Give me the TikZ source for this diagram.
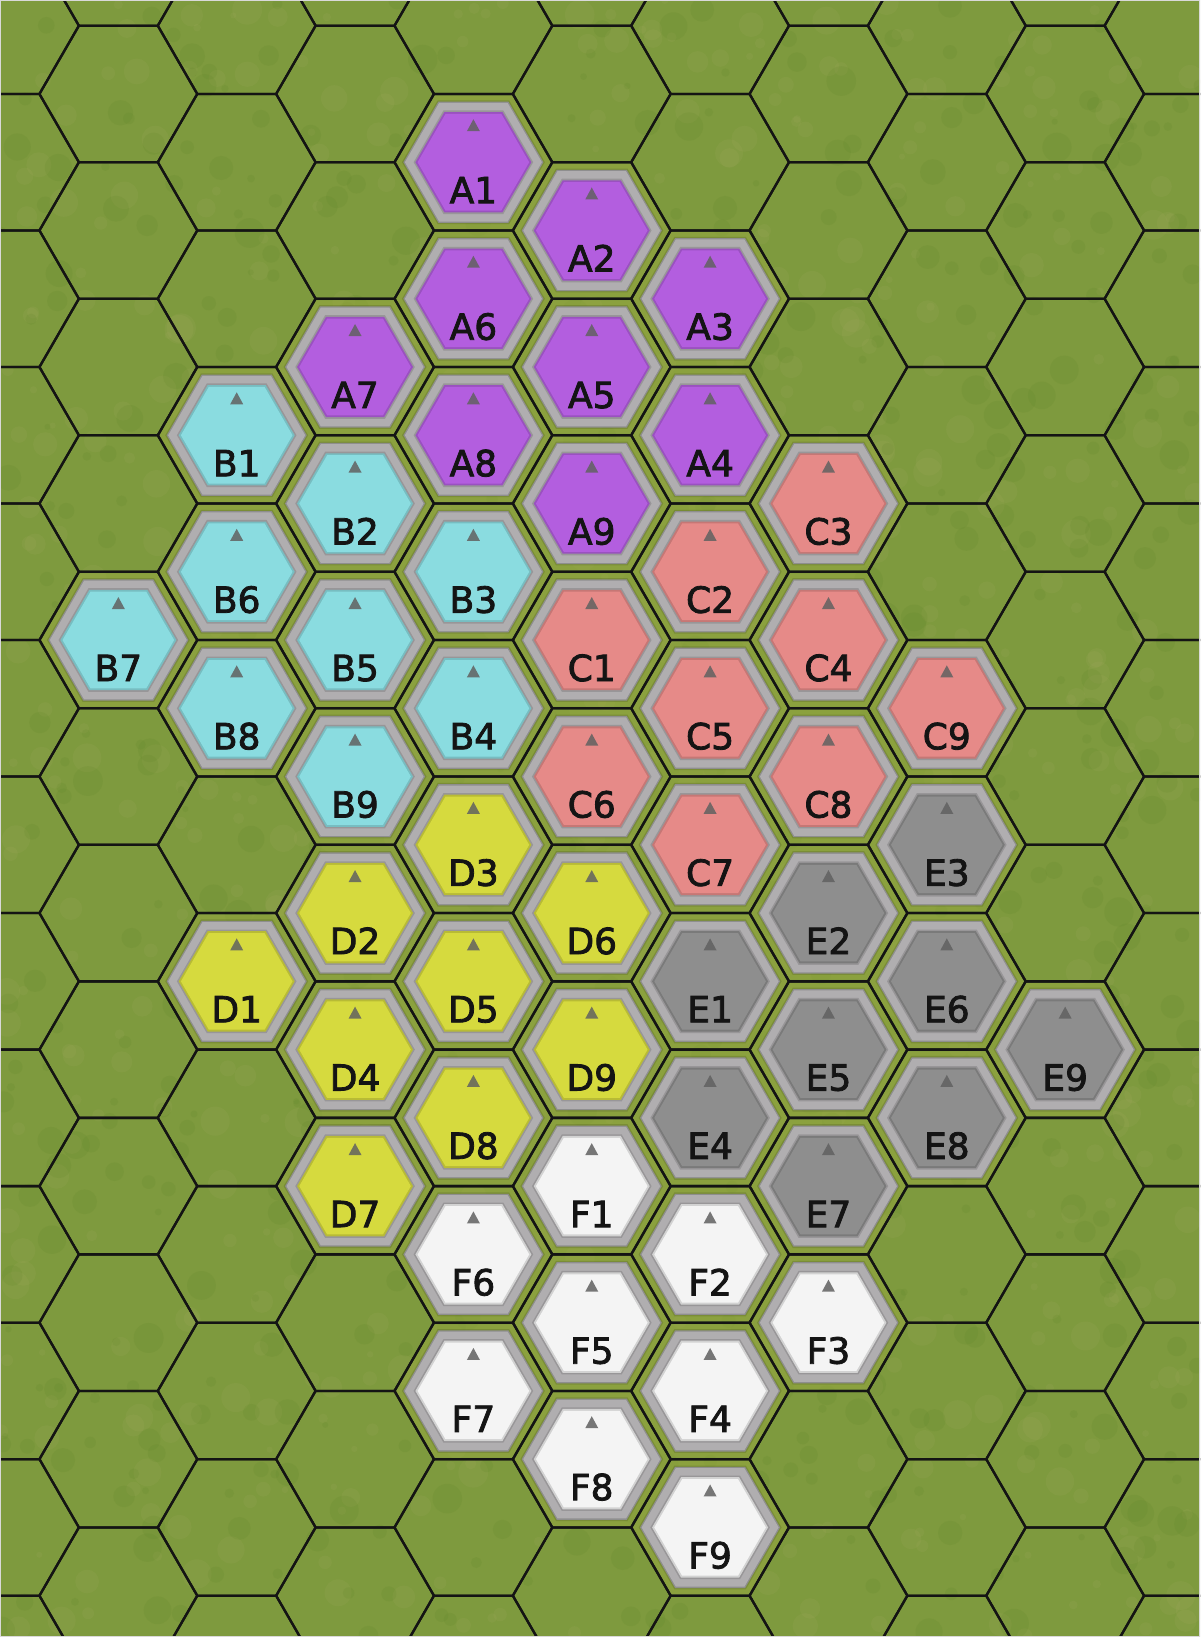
\documentclass[tikz,border=0pt]{standalone}
\usepackage{fontspec}
\setmainfont{DejaVu Sans}
\newfontfamily\lblfont[FakeBold=2.2]{DejaVu Sans}
\definecolor{grass}{HTML}{7E9A3E}
\definecolor{grassL}{HTML}{A6AA62}
\definecolor{grassD}{HTML}{5C8226}
\definecolor{gapc}{HTML}{9CAA40}
\definecolor{ringD}{HTML}{8E8E8E}
\definecolor{ringL}{HTML}{B0AEB0}
\definecolor{ringM}{HTML}{989698}
\definecolor{cA}{HTML}{B35EDF}
\definecolor{cB}{HTML}{8ADCE0}
\definecolor{cC}{HTML}{E68A88}
\definecolor{cD}{HTML}{D6DA3E}
\definecolor{cE}{HTML}{8E8E8E}
\definecolor{cF}{HTML}{F4F4F4}
\newcommand\hexat[4]{({#1+#3},{#2}) -- ({#1+0.5*#3},{#2+#4}) -- ({#1-0.5*#3},{#2+#4}) -- ({#1-#3},{#2}) -- ({#1-0.5*#3},{#2-#4}) -- ({#1+0.5*#3},{#2-#4}) -- cycle}
\tikzset{
  gridline/.style={draw=black!92, line width=2.3pt, line join=miter},
  tilelabel/.style={anchor=base, text=black!92, font=\lblfont\fontsize{36}{40}\selectfont, inner sep=0pt},
  marker/.style={fill=black!62, opacity=0.85}
}
\begin{document}
\begin{tikzpicture}[x=1pt,y=-1pt]
\useasboundingbox (0,0) rectangle (1200,1637);
\begin{scope}
\clip (0,0) rectangle (1200,1637);
\fill[grass] (0,0) rectangle (1200,1637);
\pgfmathsetseed{11}
\foreach \i in {1,...,700} {
  \pgfmathsetmacro\rx{rnd*1200}\pgfmathsetmacro\ry{rnd*1637}\pgfmathsetmacro\rr{3+rnd*12}
  \fill[grassL, opacity=0.15] (\rx,\ry) circle[radius=\rr pt];
}
\foreach \i in {1,...,700} {
  \pgfmathsetmacro\rx{rnd*1200}\pgfmathsetmacro\ry{rnd*1637}\pgfmathsetmacro\rr{3+rnd*12}
  \fill[grassD, opacity=0.15] (\rx,\ry) circle[radius=\rr pt];
}
% tiles
\foreach \n/\c/\r/\col in {A1/4/1/cA,A2/5/1/cA,A3/6/2/cA,A4/6/3/cA,A5/5/2/cA,A6/4/2/cA,A7/3/2/cA,A8/4/3/cA,A9/5/3/cA,
  B1/2/3/cB,B2/3/3/cB,B3/4/4/cB,B4/4/5/cB,B5/3/4/cB,B6/2/4/cB,B7/1/4/cB,B8/2/5/cB,B9/3/5/cB,
  C1/5/4/cC,C2/6/4/cC,C3/7/3/cC,C4/7/4/cC,C5/6/5/cC,C6/5/5/cC,C7/6/6/cC,C8/7/5/cC,C9/8/5/cC,
  D1/2/7/cD,D2/3/6/cD,D3/4/6/cD,D4/3/7/cD,D5/4/7/cD,D6/5/6/cD,D7/3/8/cD,D8/4/8/cD,D9/5/7/cD,
  E1/6/7/cE,E2/7/6/cE,E3/8/6/cE,E4/6/8/cE,E5/7/7/cE,E6/8/7/cE,E7/7/8/cE,E8/8/8/cE,E9/9/7/cE,
  F1/5/8/cF,F2/6/9/cF,F3/7/9/cF,F4/6/10/cF,F5/5/9/cF,F6/4/9/cF,F7/4/10/cF,F8/5/10/cF,F9/6/11/cF} {
  \pgfmathsetmacro\cx{118.35*\c}
  \ifodd\c \pgfmathsetmacro\cy{93.96+136.52*\r}\else \pgfmathsetmacro\cy{25.7+136.52*\r}\fi
  \fill[gapc, opacity=0.45] \hexat{\cx}{\cy}{77}{66.6};
  \fill[black, opacity=0.12] \hexat{\cx}{\cy}{71.5}{61.9};
  \fill[ringD] \hexat{\cx}{\cy}{70}{60.6};
  \fill[ringL] \hexat{\cx}{\cy}{68.5}{59.3};
  \fill[ringM] \hexat{\cx}{\cy}{59.8}{51.8};
  \fill[\col!86!black] \hexat{\cx}{\cy}{58}{50.2};
  \fill[\col] \hexat{\cx}{\cy}{55.8}{48.3};
  \fill[marker] (\cx,\cy-43) -- (\cx-6.5,\cy-31) -- (\cx+6.5,\cy-31) -- cycle;
  \node[tilelabel] (\n) at (\cx,\cy+41) {\n};
}
% grid
\foreach \k in {0,...,10} {
  \pgfmathsetmacro\gx{118.35*\k}
  \foreach \j in {-1,...,12} {
    \ifodd\k \pgfmathsetmacro\gy{93.96+136.52*\j}\else \pgfmathsetmacro\gy{25.7+136.52*\j}\fi
    \draw[gridline] \hexat{\gx}{\gy}{78.9}{68.26};
  }
}
\draw[black!15, line width=1.5pt] (0,0) rectangle (1200,1637);
\end{scope}
\end{tikzpicture}
\end{document}
